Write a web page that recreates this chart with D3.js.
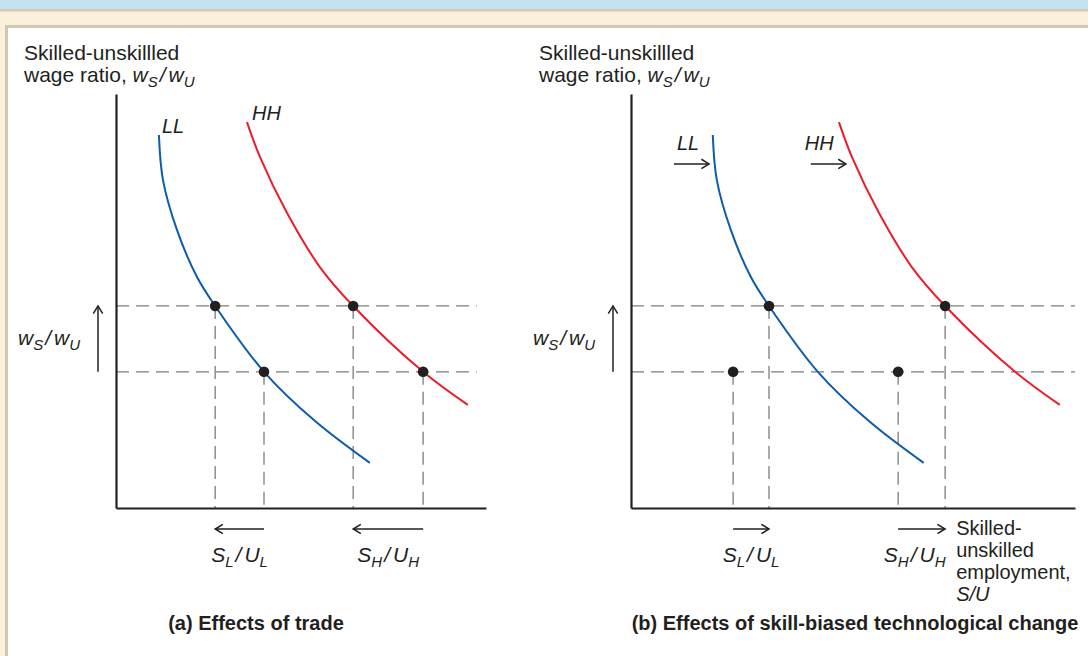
<!DOCTYPE html>
<html>
<meta charset="utf-8">
<style>
body { margin: 0; background: #fff; }
text { font-family: "Liberation Sans", Arial, sans-serif; fill: #231f20; }
</style>
<head>
<script src="https://d3js.org/d3.v7.min.js"></script>
</head>
<body>
<script>
// curves (S/U on x, wage ratio on y, 0..10 axis units)
var llTrade = [[1.16, 9.01], [1.27, 7.92], [1.65, 6.71], [2.19, 5.58], [2.68, 4.88], [4.00, 3.29], [5.38, 2.10], [6.86, 1.09]];
var hhTrade = [[3.54, 9.32], [3.89, 8.48], [4.62, 7.13], [5.51, 5.82], [6.41, 4.88], [8.30, 3.29], [9.51, 2.49]];
var llTech = [[2.21, 9.01], [2.32, 7.92], [2.70, 6.71], [3.24, 5.58], [3.73, 4.88], [5.05, 3.29], [6.43, 2.10], [7.91, 1.09]];
var hhTech = [[5.62, 9.32], [5.97, 8.48], [6.70, 7.13], [7.59, 5.82], [8.49, 4.88], [10.38, 3.29], [11.59, 2.49]];

var wageLevels = [4.88, 3.29];
var tradeDots = [[2.68, 4.88], [4.00, 3.29], [6.41, 4.88], [8.30, 3.29]];
var techDots = [[2.76, 3.29], [3.73, 4.88], [7.22, 3.29], [8.49, 4.88]];

// employment moves: from -> to
var tradeShifts = [[4.00, 2.68], [8.30, 6.41]];
var techShifts = [[2.76, 3.73], [7.22, 8.49]];
var shiftLabels = [["S", "L", "U", "L"], ["S", "H", "U", "H"]];

// curve shift arrows in panel (b)
var curveShifts = [{label: "LL", x0: 1.16, x1: 2.11, y: 8.31}, {label: "HH", x0: 4.86, x1: 5.81, y: 8.31}];

var titles = ["(a) Effects of trade", "(b) Effects of skill-biased technological change"];
var xTitle = ["Skilled-", "unskilled", "employment,"];

var width = 1088, height = 656;

var svg = d3.select("body").append("svg")
    .attr("width", width)
    .attr("height", height);

// frame
svg.append("rect").attr("x", 0).attr("y", 0).attr("width", width).attr("height", height).attr("fill", "#fdf0db");
svg.append("rect").attr("x", 0).attr("y", 0).attr("width", width).attr("height", 10).attr("fill", "#c5e2ef");
svg.append("rect").attr("x", 0).attr("y", 9).attr("width", width).attr("height", 2.5).attr("fill", "#d3cab9");
svg.append("rect").attr("x", 5).attr("y", 25).attr("width", width).attr("height", height).attr("fill", "#d0c7b6");
svg.append("rect").attr("x", 8).attr("y", 28).attr("width", width).attr("height", height).attr("fill", "#fff");

var y = d3.scaleLinear().domain([0, 10]).range([508, 94]);
var xA = d3.scaleLinear().domain([0, 10]).range([116, 486]);
var xB = d3.scaleLinear().domain([0, 12]).range([631, 1075]);

var line = d3.line().curve(d3.curveCatmullRom.alpha(0.5));

// write text with italic / subscript parts
function addMath(sel, parts) {
  var down = false;
  parts.forEach(function(p) {
    var ts = sel.append("tspan").text(p.t);
    if (p.i) ts.style("font-style", "italic");
    if (p.sub) {
      ts.attr("dy", 5).style("font-size", "15px");
      down = true;
    } else if (down) {
      ts.attr("dy", -5);
      down = false;
    }
    if (p.dx) ts.attr("dx", p.dx);
  });
}

function ratio(a, as, b, bs) {
  return [{t: a, i: true}, {t: as, i: true, sub: true}, {t: "/", i: true, dx: 2}, {t: b, i: true, dx: 3}, {t: bs, i: true, sub: true}];
}

function arrow(g, x1, y1, x2, y2) {
  var a = Math.atan2(y2 - y1, x2 - x1), L = 9, w = 0.55;
  g.append("line")
      .attr("x1", x1).attr("y1", y1).attr("x2", x2).attr("y2", y2)
      .attr("stroke", "#231f20").attr("stroke-width", 1.5);
  g.append("path")
      .attr("d", "M" + (x2 - L * Math.cos(a - w)) + "," + (y2 - L * Math.sin(a - w)) +
                 "L" + x2 + "," + y2 +
                 "L" + (x2 - L * Math.cos(a + w)) + "," + (y2 - L * Math.sin(a + w)))
      .attr("fill", "none").attr("stroke", "#231f20").attr("stroke-width", 1.5);
}

function panel(x, ll, hh, dots, shifts, hEnd, idx) {
  var g = svg.append("g");

  // dashed guides
  g.selectAll(".hdash").data(wageLevels).enter().append("line")
      .attr("x1", x(0)).attr("x2", x(hEnd))
      .attr("y1", function(d) { return y(d); }).attr("y2", function(d) { return y(d); })
      .attr("stroke", "#7d7d7d").attr("stroke-width", 1.3).attr("stroke-dasharray", "13,7");
  g.selectAll(".vdash").data(dots).enter().append("line")
      .attr("x1", function(d) { return x(d[0]); }).attr("x2", function(d) { return x(d[0]); })
      .attr("y1", function(d) { return y(d[1]); }).attr("y2", y(0))
      .attr("stroke", "#7d7d7d").attr("stroke-width", 1.3).attr("stroke-dasharray", "13,7");

  // axes
  g.append("g").attr("transform", "translate(0," + y(0) + ")")
      .call(d3.axisBottom(x).tickValues([]).tickSizeOuter(0))
      .select(".domain").attr("stroke", "#231f20").attr("stroke-width", 2.2);
  g.append("g").attr("transform", "translate(" + x(0) + ",0)")
      .call(d3.axisLeft(y).tickValues([]).tickSizeOuter(0))
      .select(".domain").attr("stroke", "#231f20").attr("stroke-width", 2.2);

  // curves
  line.x(function(d) { return x(d[0]); }).y(function(d) { return y(d[1]); });
  g.append("path").attr("d", line(ll)).attr("fill", "none").attr("stroke", "#0b5cab").attr("stroke-width", 2);
  g.append("path").attr("d", line(hh)).attr("fill", "none").attr("stroke", "#ec1c2c").attr("stroke-width", 2);

  g.selectAll("circle").data(dots).enter().append("circle")
      .attr("cx", function(d) { return x(d[0]); })
      .attr("cy", function(d) { return y(d[1]); })
      .attr("r", 5.3).attr("fill", "#231f20");

  // y title
  var x0 = x(0);
  g.append("text").attr("x", x0 - 92).attr("y", 60).style("font-size", "21px").text("Skilled-unskillled");
  var t2 = g.append("text").attr("x", x0 - 92).attr("y", 82).style("font-size", "21px");
  addMath(t2, [{t: "wage ratio, "}].concat(ratio("w", "S", "w", "U")));

  // wage ratio rises
  arrow(g, x0 - 18, y(wageLevels[1]), x0 - 18, y(wageLevels[0]));
  var wl = g.append("text").attr("x", x0 - 98).attr("y", (y(wageLevels[0]) + y(wageLevels[1])) / 2 + 6)
      .style("font-size", "21px");
  addMath(wl, ratio("w", "S", "w", "U"));

  // employment moves
  shifts.forEach(function(s, i) {
    arrow(g, x(s[0]), 529, x(s[1]), 529);
    var lb = shiftLabels[i];
    var tx = g.append("text").attr("x", (x(s[0]) + x(s[1])) / 2 - (idx == 1 && i == 1 ? 7 : 0)).attr("y", 562)
        .attr("text-anchor", "middle").style("font-size", "21px");
    addMath(tx, ratio(lb[0], lb[1], lb[2], lb[3]));
  });

  g.append("text").attr("x", idx == 0 ? 256 : 855).attr("y", 630)
      .attr("text-anchor", "middle").style("font-size", "20px").style("font-weight", "bold")
      .text(titles[idx]);
  return g;
}

var gA = panel(xA, llTrade, hhTrade, tradeDots, tradeShifts, 9.75, 0);
var gB = panel(xB, llTech, hhTech, techDots, techShifts, 12, 1);

// curve names, panel (a)
gA.append("text").attr("x", xA(llTrade[0][0]) + 3).attr("y", y(llTrade[0][1]) - 2)
    .style("font-size", "20px").style("font-style", "italic").text("LL");
gA.append("text").attr("x", xA(hhTrade[0][0]) + 5).attr("y", y(hhTrade[0][1]) - 2)
    .style("font-size", "20px").style("font-style", "italic").text("HH");

// curve names and shift arrows, panel (b)
curveShifts.forEach(function(c, i) {
  arrow(gB, xB(c.x0), y(c.y), xB(c.x1), y(c.y));
  gB.append("text").attr("x", xB(c.x0) + (i == 0 ? 3 : -6)).attr("y", y(c.y) - 14)
      .style("font-size", "20px").style("font-style", "italic").text(c.label);
});

// x title, panel (b)
var xt = gB.append("text").attr("x", xB(techDots[3][0]) + 11).attr("y", 535).style("font-size", "20px");
xTitle.forEach(function(s, i) {
  xt.append("tspan").attr("x", xB(techDots[3][0]) + 11).attr("dy", i == 0 ? 0 : 22).text(s);
});
xt.append("tspan").attr("x", xB(techDots[3][0]) + 11).attr("dy", 22).style("font-style", "italic").text("S/U");
</script>
</body>
</html>
